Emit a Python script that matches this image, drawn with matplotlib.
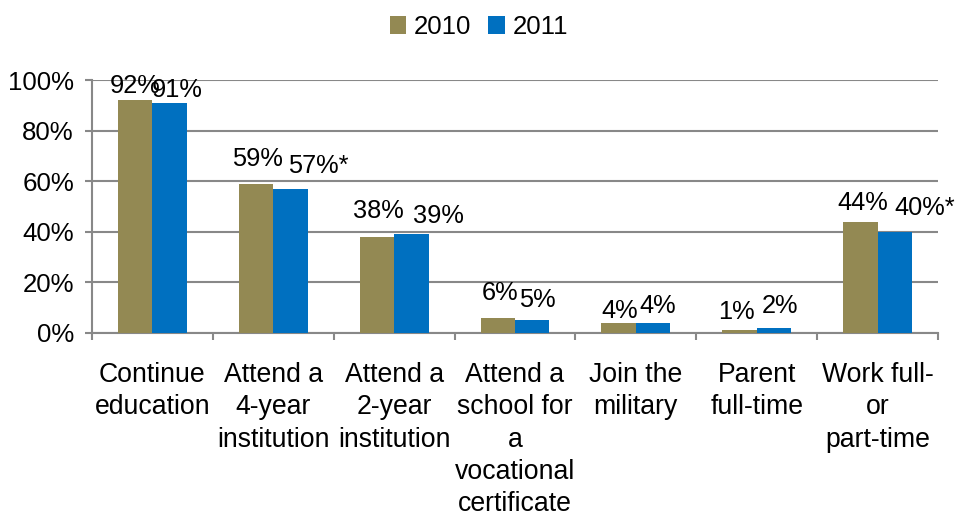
import matplotlib
matplotlib.use("Agg")
import matplotlib.pyplot as plt
from matplotlib.patches import Patch
from matplotlib.ticker import FixedLocator, PercentFormatter
import numpy as np

plt.rcParams['font.family'] = ['Liberation Sans', 'DejaVu Sans']

categories = [
    "Continue\neducation",
    "Attend a\n4-year\ninstitution",
    "Attend a\n2-year\ninstitution",
    "Attend a\nschool for\na\nvocational\ncertificate",
    "Join the\nmilitary",
    "Parent\nfull-time",
    "Work full-\nor\npart-time",
]
years = ["2010", "2011"]
values_2010 = [92, 59, 38, 6, 4, 1, 44]
values_2011 = [91, 57, 39, 5, 4, 2, 40]
flags_2011 = ["", "*", "", "", "", "", "*"]
yticks = [0, 20, 40, 60, 80, 100]

colors = ["#938953", "#0070C0"]
grid_color = "#888888"

# label placement (left edge relative to bar centre, gap above bar top), in pixels
offs_2010 = [(-25, 7), (-24, 18), (-23.5, 19), (-16, 18), (-17.5, 5), (-21.5, 11), (-22.5, 12)]
offs_2011 = [(-17.5, 6), (-2, 16), (1.5, 11), (-13, 13), (-13.5, 10), (-12, 15), (0, 17)]

dpi = 100
fig = plt.figure(figsize=(9.58, 5.16), dpi=dpi)
ax = fig.add_axes([92 / 958, 1 - 333 / 516, (938 - 92) / 958, (333 - 80) / 516])

x = np.arange(len(categories))
w = 0.285
b1 = ax.bar(x - w / 2, values_2010, w, color=colors[0], zorder=3)
b2 = ax.bar(x + w / 2, values_2011, w, color=colors[1], zorder=3)

px = 72 / dpi
for bars, vals, offs, flags in ((b1, values_2010, offs_2010, [""] * 7),
                                (b2, values_2011, offs_2011, flags_2011)):
    for rect, v, (dx, dy), fl in zip(bars, vals, offs, flags):
        ax.annotate(f"{v}%{fl}", xy=(rect.get_x() + rect.get_width() / 2, v),
                    xytext=(dx * px, dy * px), textcoords="offset points",
                    ha="left", va="baseline", fontsize=18.3, color="black",
                    zorder=5, annotation_clip=False)

ax.set_xlim(-0.5, len(categories) - 0.5)
ax.set_ylim(0, 100)
ax.set_yticks(yticks)
ax.yaxis.set_major_formatter(PercentFormatter(decimals=0))
ax.grid(axis="y", color=grid_color, linewidth=1.5, zorder=0)
ax.set_axisbelow(True)

ax.set_xticks(x)
ax.set_xticklabels(categories, fontsize=19.2, linespacing=1.31)
ax.xaxis.set_minor_locator(FixedLocator(np.arange(-0.5, len(categories), 1.0)))
ax.tick_params(axis="x", which="major", length=0, pad=21)
ax.tick_params(axis="x", which="minor", length=5, width=1.5, color=grid_color, direction="out")
ax.tick_params(axis="y", length=5, width=1.5, color=grid_color, labelsize=18.6, pad=8)

for s in ("top", "right"):
    ax.spines[s].set_visible(False)
for s in ("left", "bottom"):
    ax.spines[s].set_color(grid_color)
    ax.spines[s].set_linewidth(1.5)

handles = [Patch(facecolor=c, edgecolor="none") for c in colors]
fig.legend(handles, years, loc="center", bbox_to_anchor=(0.5, 1 - 27 / 516),
           ncol=2, frameon=False, fontsize=18.6, handlelength=0.65, handleheight=0.65,
           handletextpad=0.3, columnspacing=0.65, borderpad=0)

fig.savefig("out.png", dpi=dpi)
